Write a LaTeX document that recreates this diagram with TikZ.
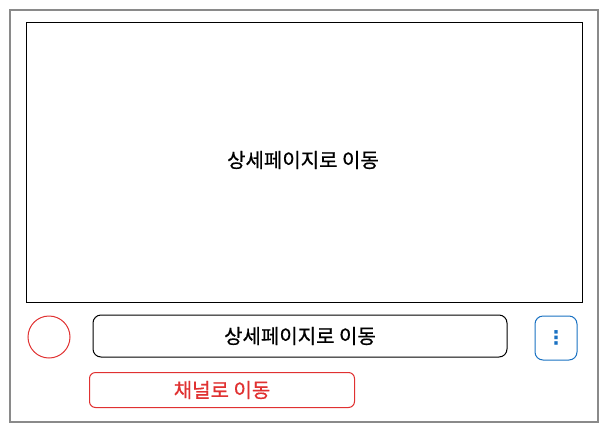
\documentclass[tikz,border=0pt]{standalone}
\usepackage{fontspec}
\newfontfamily\kofont[FakeBold=0.6]{Noto Sans CJK KR}
\newfontfamily\symfont{DejaVu Sans}
\definecolor{exred}{HTML}{E03131}
\definecolor{exblue}{HTML}{1971C2}
\definecolor{exgray}{HTML}{8A8A8A}

\begin{document}
\begin{tikzpicture}[x=1pt,y=-1pt,
	label text/.style={font=\kofont\fontsize{20}{24}\selectfont},
	box/.style={draw, line width=1pt, inner sep=0, outer sep=0},
	button/.style={box, rounded corners=8pt}]
		\useasboundingbox (0,0) rectangle (608,432);
		
		\node[box, draw=exgray, line width=1.2pt, minimum width=588, minimum height=412] (frame) at (304,216) {};
		\node[box, label text, minimum width=556, minimum height=280] (thumb) at (304,162) {};
		\node[label text] (thumbtext) at (303,160) {상세페이지로 이동};
		
		\node[box, circle, draw=exred, minimum size=42] (avatar) at (49,337) {};
		\node[button, label text, minimum width=414, minimum height=42] (title) at (300,336) {상세페이지로 이동};
		\node[button, draw=exblue, text=exblue, minimum width=42, minimum height=44, font=\symfont\bfseries\fontsize{19}{22}\selectfont] (more) at (556,338) {⋮};
		\node[button, label text, draw=exred, text=exred, rounded corners=6pt, minimum width=265, minimum height=35] (channel) at (222,390) {채널로 이동};
		
\end{tikzpicture}
\end{document}
